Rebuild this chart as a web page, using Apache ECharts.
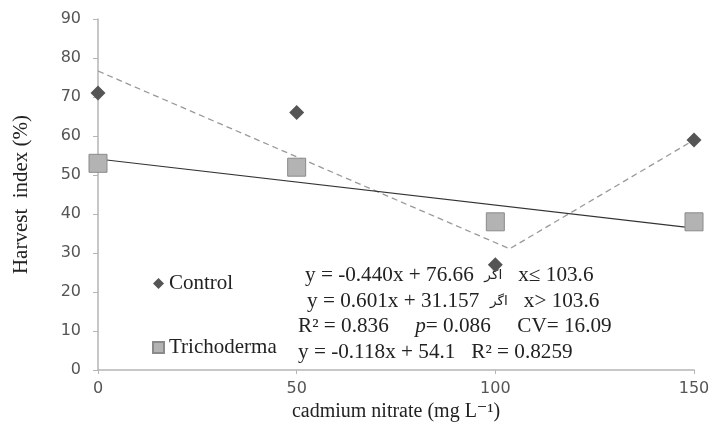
<!DOCTYPE html>
<html>
<head>
<meta charset="utf-8">
<script src="https://cdn.jsdelivr.net/npm/echarts@6/dist/echarts.min.js"></script>
<style>
  html, body { margin: 0; padding: 0; background: #fff; }
  #chart { width: 713px; height: 427px; }
</style>
</head>
<body>
<div id="chart"></div>
<script>
// cadmium nitrate doses (mg L-1)
const doses = [0, 50, 100, 150];
const controlValues = [71, 66, 27, 59];
const trichodermaValues = [53, 52, 38, 38];

// fitted lines (from the printed equations)
const controlFit = [[0, 76.66], [103.6, 31.08], [150, 58.97]];
const trichodermaFit = [[0, 54.1], [150, 36.4]];

const yTicks = { min: 0, max: 90, interval: 10 };
const xTicks = { min: 0, max: 150, interval: 50 };

const annotations = [
  { text: 'y = -0.440x + 76.66  {ar|اگر}   x≤ 103.6', x: 305, y: 276 },
  { text: 'y = 0.601x + 31.157  {ar|اگر}   x> 103.6', x: 307, y: 302 },
  { text: 'R² = 0.836     {i|p}= 0.086     CV= 16.09', x: 298, y: 327 },
  { text: 'y = -0.118x + 54.1   R² = 0.8259', x: 298, y: 353 }
];

const serif = '"Liberation Serif", "DejaVu Serif", serif';
const sans = '"DejaVu Sans", Verdana, sans-serif';

const chart = echarts.init(document.getElementById('chart'));

const option = {
  animation: false,
  backgroundColor: '#fff',
  grid: { left: 98, right: 19, top: 19, bottom: 57 },
  legend: {
    data: [
      { name: 'Control', icon: 'diamond' },
      { name: 'Trichoderma', icon: 'rect' }
    ],
    orient: 'vertical',
    left: 147,
    top: 268,
    itemWidth: 11,
    itemHeight: 11,
    itemGap: 43,
    textStyle: { fontFamily: serif, fontSize: 21, color: '#222' }
  },
  xAxis: {
    type: 'value',
    min: xTicks.min,
    max: xTicks.max,
    interval: xTicks.interval,
    name: 'cadmium nitrate (mg L⁻¹)',
    nameLocation: 'middle',
    nameGap: 30,
    nameTextStyle: { fontFamily: serif, fontSize: 20, color: '#222' },
    axisLine: { lineStyle: { color: '#b5b5b5', width: 1.5 } },
    axisTick: { show: true, inside: false, length: 4, lineStyle: { color: '#b5b5b5' } },
    axisLabel: { fontFamily: sans, fontSize: 16, color: '#555', margin: 11 },
    splitLine: { show: false }
  },
  yAxis: {
    type: 'value',
    min: yTicks.min,
    max: yTicks.max,
    interval: yTicks.interval,
    name: 'Harvest  index (%)',
    nameLocation: 'middle',
    nameGap: 66,
    nameTextStyle: { fontFamily: serif, fontSize: 21, color: '#222' },
    axisLine: { show: true, lineStyle: { color: '#b5b5b5', width: 1.5 } },
    axisTick: { show: true, length: 5, lineStyle: { color: '#b5b5b5' } },
    axisLabel: { fontFamily: sans, fontSize: 16, color: '#555', margin: 17 },
    splitLine: { show: false }
  },
  series: [
    {
      name: 'Control fit',
      type: 'line',
      data: controlFit,
      symbol: 'none',
      lineStyle: { color: '#9a9a9a', width: 1.3, type: [6, 4] },
      z: 1
    },
    {
      name: 'Trichoderma fit',
      type: 'line',
      data: trichodermaFit,
      symbol: 'none',
      lineStyle: { color: '#333', width: 1.2 },
      z: 1
    },
    {
      name: 'Trichoderma',
      type: 'scatter',
      data: doses.map((d, i) => [d, trichodermaValues[i]]),
      symbol: 'rect',
      symbolSize: 18,
      itemStyle: { color: '#b3b3b3', borderColor: '#8a8a8a', borderWidth: 1, opacity: 1 },
      z: 3
    },
    {
      name: 'Control',
      type: 'scatter',
      data: doses.map((d, i) => [d, controlValues[i]]),
      symbol: 'diamond',
      symbolSize: 15,
      itemStyle: { color: '#555', opacity: 1 },
      z: 3
    }
  ],
  graphic: annotations.map(a => ({
    type: 'text',
    x: a.x,
    y: a.y,
    scaleX: 1.06,
    style: {
      text: a.text,
      fontFamily: serif,
      fontSize: 20,
      fill: '#222',
      verticalAlign: 'middle',
      rich: {
        ar: { fontFamily: sans, fontSize: 13, fill: '#222' },
        i: { fontFamily: serif, fontSize: 20, fontStyle: 'italic', fill: '#222' }
      }
    }
  }))
};

chart.setOption(option);
</script>
</body>
</html>
